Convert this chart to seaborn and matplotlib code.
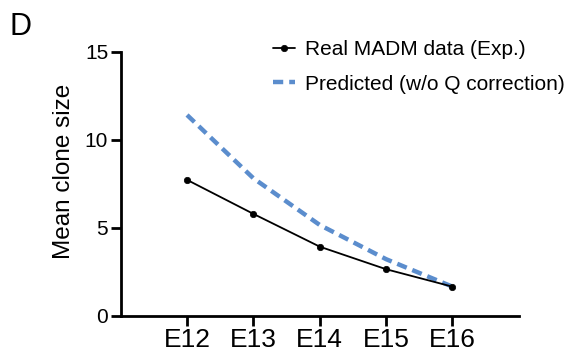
import numpy as np
import pandas as pd
import matplotlib
matplotlib.use("Agg")
import matplotlib.pyplot as plt
import seaborn as sns

# datos
stages = ["E12", "E13", "E14", "E15", "E16"]
real_madm = [7.72, 5.79, 3.93, 2.65, 1.66]
predicted = [11.4, 7.81, 5.16, 3.22, 1.66]

sns.set_theme(style="ticks")
plt.rcParams['font.family'] = ['Liberation Sans', 'DejaVu Sans']
plt.rcParams['text.color'] = 'black'

pos = np.arange(len(stages))
df = pd.DataFrame({
    'pos': np.concatenate([pos, pos]),
    'valor': real_madm + predicted,
    'serie': ['Real MADM data (Exp.)'] * len(stages) + ['Predicted (w/o Q correction)'] * len(stages),
})

fig = plt.figure(figsize=(5.72, 3.53), dpi=100)
ax = fig.add_axes([0.211, 0.105, 0.696, 0.749])

# curva predicha (discontinua) primero para que la real quede encima
sns.lineplot(data=df[df.serie == 'Predicted (w/o Q correction)'], x='pos', y='valor',
             color='#5b8dcd', lw=3.2, linestyle=(0, (2.3, 1.35)), ax=ax,
             label='Predicted (w/o Q correction)', zorder=2)
sns.lineplot(data=df[df.serie == 'Real MADM data (Exp.)'], x='pos', y='valor',
             color='black', lw=1.3, marker='o', markersize=4.6, mec='black', mew=0.5, ax=ax,
             label='Real MADM data (Exp.)', zorder=3)

ax.set_xlim(-1, 5)
ax.set_ylim(0, 15)
ax.set_xticks(pos)
ax.set_xticklabels(stages)
ax.set_yticks([0, 5, 10, 15])
ax.set_xlabel('')
ax.set_ylabel('Mean clone size', fontsize=17.5, labelpad=7, color='black', y=0.545)
ax.tick_params(width=2, length=7, color='black', labelcolor='black', pad=2)
ax.tick_params(axis='x', labelsize=19)
ax.tick_params(axis='y', labelsize=15)
sns.despine(ax=ax)
for s in ['left', 'bottom']:
    ax.spines[s].set_linewidth(2)
    ax.spines[s].set_color('black')

handles, labels = ax.get_legend_handles_labels()
order = [labels.index('Real MADM data (Exp.)'), labels.index('Predicted (w/o Q correction)')]
ax.legend([handles[i] for i in order], [labels[i] for i in order],
          loc='upper left', bbox_to_anchor=(273 / 572, 1 - 40 / 353),
          bbox_transform=fig.transFigure, frameon=False, borderpad=0, borderaxespad=0,
          fontsize=15, handlelength=1.05, handletextpad=0.48, labelspacing=0.75,
          labelcolor='black')

fig.text(10 / 572, 1 - 35 / 353, 'D', fontsize=22, va='baseline', color='black')

fig.savefig('out.png', dpi=100)
